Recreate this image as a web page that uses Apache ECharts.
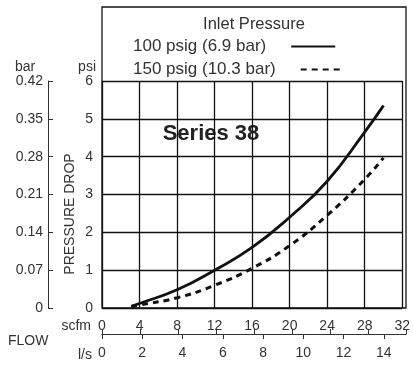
<!DOCTYPE html>
<html><head><meta charset="utf-8">
<script src="https://cdn.jsdelivr.net/npm/echarts@6/dist/echarts.min.js"></script>
<style>html,body{margin:0;padding:0;background:#fff}#c{width:413px;height:366px}</style>
</head><body><div id="c"></div>
<script>
// ---- data ----
const seriesNames = ['100 psig (6.9 bar)', '150 psig (10.3 bar)'];
const flow100 = [3.2, 4, 8, 12, 16, 20, 24, 28, 30];              // scfm
const drop100 = [0.05, 0.12, 0.48, 1.0, 1.6, 2.4, 3.35, 4.65, 5.35]; // psi
const flow150 = [3.1, 4, 8, 12, 16, 20, 24, 28, 30];              // scfm
const drop150 = [0.04, 0.08, 0.27, 0.6, 1.05, 1.65, 2.45, 3.4, 3.97]; // psi
const scfmRange = [0, 32, 4];
const psiRange = [0, 6, 1];
const barRange = [0, 0.42, 0.07];
const lpsStep = 2;
const SCFM_PER_LPS = 2.11888;

const FONT = '"Liberation Sans", Arial, sans-serif';
const TXT = '#333';
const LINE = '#111';

const chart = echarts.init(document.getElementById('c'), null, {renderer: 'canvas'});
const pairs = (xs, ys) => xs.map((x, i) => [x, ys[i]]);
const lbl = (extra) => Object.assign({fontSize: 14, color: TXT, fontFamily: FONT}, extra);
const legendBase = {
  orient: 'horizontal', left: 128, align: 'right',
  itemWidth: 44, itemHeight: 12,
  itemStyle: {opacity: 0},
  textStyle: {fontSize: 17, color: TXT, fontFamily: FONT, padding: [0, 20, 0, 0]}
};

chart.setOption({
  animation: false,
  backgroundColor: '#fff',
  grid: [
    {left: 102, top: 81, width: 304, height: 227},
    {left: 102, top: 7, width: 304, height: 301, show: true, borderColor: LINE, borderWidth: 1.3, backgroundColor: 'transparent'},
    {left: 102, top: 334, width: 304, height: 0}
  ],
  xAxis: [
    {gridIndex: 0, type: 'value', min: scfmRange[0], max: scfmRange[1], interval: scfmRange[2],
      axisLine: {show: false}, axisTick: {show: false},
      axisLabel: lbl({margin: 11}),
      splitLine: {show: true, lineStyle: {color: LINE, width: 1.3}}},
    {gridIndex: 1, type: 'value', show: false, min: 0, max: 1},
    {gridIndex: 2, type: 'value', position: 'top', min: scfmRange[0], max: scfmRange[1], interval: scfmRange[2],
      axisLine: {show: true, lineStyle: {color: TXT, width: 1}},
      axisTick: {show: true, length: 5, lineStyle: {color: TXT, width: 1}},
      axisLabel: {show: false}, splitLine: {show: false}},
    {gridIndex: 2, type: 'value', position: 'bottom', min: 0, max: scfmRange[1] / SCFM_PER_LPS, interval: lpsStep,
      axisLine: {show: true, lineStyle: {color: TXT, width: 1}},
      axisTick: {show: true, length: 5, lineStyle: {color: TXT, width: 1}},
      axisLabel: lbl({margin: 12, showMaxLabel: false}),
      splitLine: {show: false}}
  ],
  yAxis: [
    {gridIndex: 0, type: 'value', min: psiRange[0], max: psiRange[1], interval: psiRange[2],
      axisLine: {show: false}, axisTick: {show: false},
      axisLabel: lbl({margin: 9}),
      splitLine: {show: true, lineStyle: {color: LINE, width: 1.3}}},
    {gridIndex: 0, type: 'value', position: 'left', offset: 54, min: barRange[0], max: barRange[1], interval: barRange[2],
      axisLine: {show: true, lineStyle: {color: TXT, width: 1}},
      axisTick: {show: true, inside: true, length: 5, lineStyle: {color: TXT, width: 1}},
      axisLabel: lbl({margin: 5, formatter: v => v === 0 ? '0' : v.toFixed(2)}),
      splitLine: {show: false}},
    {gridIndex: 1, type: 'value', show: false, min: 0, max: 1},
    {gridIndex: 2, type: 'value', show: false, min: 0, max: 1}
  ],
  legend: [
    Object.assign({}, legendBase, {data: [seriesNames[0]], top: 33}),
    Object.assign({}, legendBase, {data: [seriesNames[1]], top: 56})
  ],
  graphic: [
    {type: 'text', x: 254, y: 24, style: {text: 'Inlet Pressure', fontSize: 16.5, fill: TXT, fontFamily: FONT, align: 'center', verticalAlign: 'middle'}},
    {type: 'text', x: 211, y: 134, style: {text: 'Series 38', fontSize: 22, fontWeight: 'bold', fill: '#222', fontFamily: FONT, align: 'center', verticalAlign: 'middle'}},
    {type: 'text', x: 25, y: 67, style: {text: 'bar', fontSize: 14, fill: TXT, fontFamily: FONT, align: 'center', verticalAlign: 'middle'}},
    {type: 'text', x: 96, y: 67, style: {text: 'psi', fontSize: 14, fill: TXT, fontFamily: FONT, align: 'right', verticalAlign: 'middle'}},
    {type: 'text', x: 70, y: 214, rotation: Math.PI / 2, style: {text: 'PRESSURE DROP', fontSize: 14, fill: TXT, fontFamily: FONT, align: 'center', verticalAlign: 'middle'}},
    {type: 'text', x: 91, y: 326, style: {text: 'scfm', fontSize: 14, fill: TXT, fontFamily: FONT, align: 'right', verticalAlign: 'middle'}},
    {type: 'text', x: 8, y: 341, style: {text: 'FLOW', fontSize: 14, fill: TXT, fontFamily: FONT, align: 'left', verticalAlign: 'middle'}},
    {type: 'text', x: 92, y: 355, style: {text: 'l/s', fontSize: 14, fill: TXT, fontFamily: FONT, align: 'right', verticalAlign: 'middle'}}
  ],
  series: [
    {name: seriesNames[0], type: 'line', xAxisIndex: 0, yAxisIndex: 0, data: pairs(flow100, drop100),
      smooth: 0.5, symbol: 'none', color: LINE,
      lineStyle: {color: LINE, width: 2.8}},
    {name: seriesNames[1], type: 'line', xAxisIndex: 0, yAxisIndex: 0, data: pairs(flow150, drop150),
      smooth: 0.5, symbol: 'none', color: LINE,
      lineStyle: {color: LINE, width: 3, type: [6, 5]}}
  ]
});
</script></body></html>
